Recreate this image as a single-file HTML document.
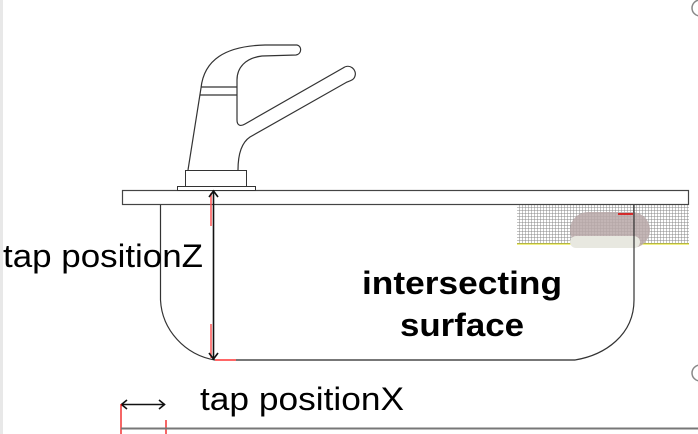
<!DOCTYPE html>
<html><head><meta charset="utf-8"><style>
html,body{margin:0;padding:0;background:#fff;}
svg{display:block;}
text{font-family:"Liberation Sans",Arial,sans-serif;}
</style></head><body>
<svg width="698" height="434" viewBox="0 0 698 434" xmlns="http://www.w3.org/2000/svg">
<defs>
<pattern id="g" width="3" height="3" patternUnits="userSpaceOnUse">
<rect width="3" height="3" fill="#fff"/>
<path d="M0 0H3M0 0V3" stroke="#888" stroke-width="1"/>
</pattern>
</defs>
<rect x="0" y="0" width="3" height="434" fill="#e8e8e8"/>
<rect x="517" y="205" width="172" height="39" fill="url(#g)"/>
<line x1="517" y1="244" x2="689" y2="244" stroke="#e0e000" stroke-width="1"/>
<rect x="570" y="212" width="80" height="36" rx="18" fill="#b8a8a8" opacity="0.85"/>
<rect x="570" y="236" width="70" height="12" rx="6" fill="#e8e8e0"/>
<rect x="122.5" y="190.5" width="566" height="14" fill="#fff" stroke="#444" stroke-width="1.2"/>
<path d="M160.5 205 V300 C162 330 185 355 215 360 H575 C605 355 634 335 634 300 V205" fill="none" stroke="#333" stroke-width="1.2"/>
<line x1="215" y1="360" x2="236" y2="360" stroke="#f66" stroke-width="2"/>
<line x1="236" y1="360" x2="575" y2="360" stroke="#777" stroke-width="2"/>
<line x1="618" y1="214" x2="633" y2="214" stroke="#d00" stroke-width="1.5"/>
<rect x="177.5" y="186.5" width="78" height="4" fill="#fff" stroke="#333"/>
<rect x="185.5" y="170.5" width="61" height="16" fill="#fff" stroke="#333"/>
<path d="M188 170 L201 88 C204 60 225 46 265 45 L297 45 C302 46 302 54 296 55 L262 56 C245 58 237 68 237 80 L237 120 C237 125 240 127 245 124 L343 68 C350 63 357 70 355 76 C354 80 350 81 347 82 L250 137 C241 143 238 155 238 170" fill="#fff" stroke="#333" stroke-width="1.2"/>
<line x1="201" y1="87" x2="237" y2="87" stroke="#333" stroke-width="1.2"/>
<line x1="200" y1="95" x2="237" y2="95" stroke="#333" stroke-width="1.2"/>
<line x1="211" y1="193" x2="211" y2="226" stroke="#f55" stroke-width="1.5"/>
<line x1="211" y1="324" x2="211" y2="358" stroke="#f55" stroke-width="1.5"/>
<line x1="213.5" y1="190" x2="213.5" y2="360" stroke="#111" stroke-width="1.6"/>
<path d="M209 197 L213.5 191 L218 197" fill="none" stroke="#111" stroke-width="1.6"/>
<path d="M209 353 L213.5 359 L218 353" fill="none" stroke="#111" stroke-width="1.6"/>
<text x="3" y="267" font-size="32" textLength="200" lengthAdjust="spacingAndGlyphs" fill="#000">tap positionZ</text>
<text x="362" y="294" font-size="32" font-weight="bold" textLength="200" lengthAdjust="spacingAndGlyphs" fill="#000">intersecting</text>
<text x="400" y="336" font-size="32" font-weight="bold" textLength="124" lengthAdjust="spacingAndGlyphs" fill="#000">surface</text>
<text x="200" y="410" font-size="32" textLength="204" lengthAdjust="spacingAndGlyphs" fill="#000">tap positionX</text>
<line x1="121" y1="404.5" x2="165" y2="404.5" stroke="#111" stroke-width="1.6"/>
<path d="M127 400 L121.5 404.5 L127 409" fill="none" stroke="#111" stroke-width="1.6"/>
<path d="M159 400 L164.5 404.5 L159 409" fill="none" stroke="#111" stroke-width="1.6"/>
<line x1="121" y1="404" x2="121" y2="434" stroke="#e00" stroke-width="1.2"/>
<line x1="166" y1="420" x2="166" y2="434" stroke="#e00" stroke-width="1.2"/>
<line x1="121" y1="428.5" x2="698" y2="428.5" stroke="#777" stroke-width="2"/>
<circle cx="700" cy="8" r="8" fill="#fff" stroke="#888" stroke-width="1.5"/>
<circle cx="700" cy="373" r="8" fill="#fff" stroke="#888" stroke-width="1.5"/>
</svg>
</body></html>
